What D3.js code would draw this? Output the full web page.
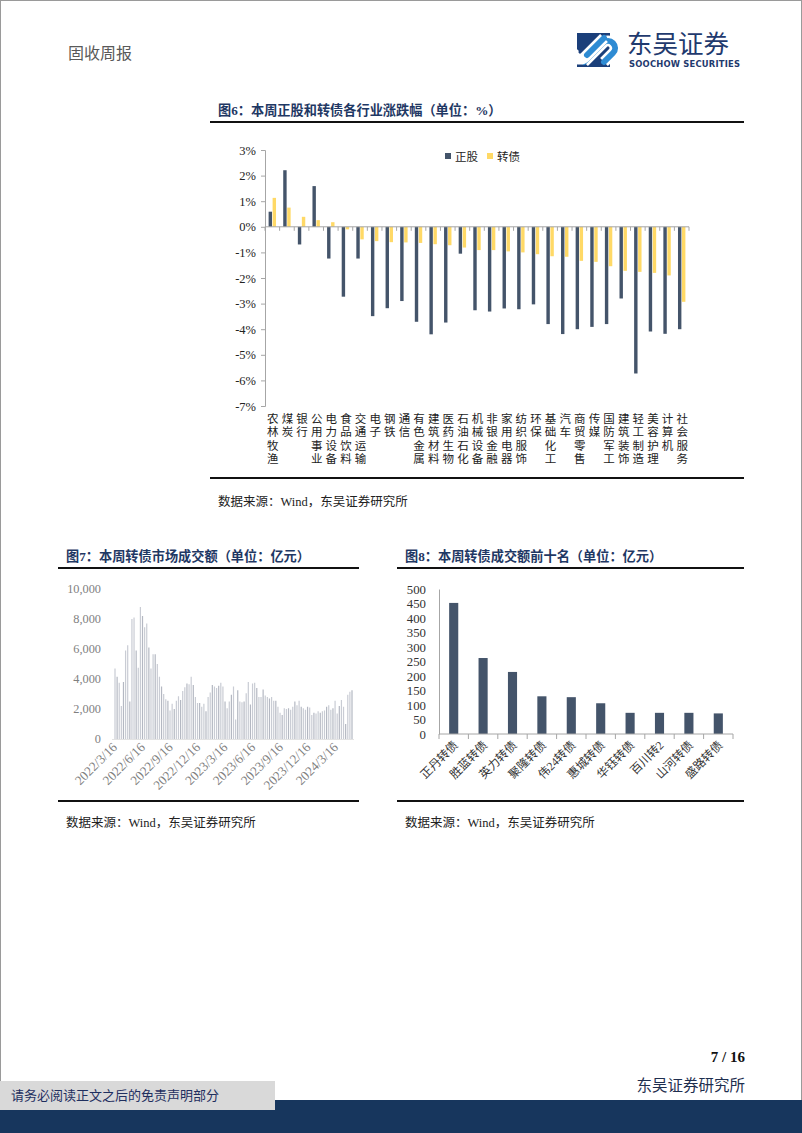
<!DOCTYPE html>
<html><head><meta charset="utf-8">
<script src="https://cdn.jsdelivr.net/npm/d3@7/dist/d3.min.js"></script>
<style>
body{margin:0;background:#fff;}
svg{display:block;}
</style></head><body>
<svg id="page" width="802" height="1133"></svg>
<script>
// ---------- DATA ----------
const industries = ["农林牧渔","煤炭","银行","公用事业","电力设备","食品饮料","交通运输","电子","钢铁","通信","有色金属","建筑材料","医药生物","石油石化","机械设备","非银金融","家用电器","纺织服饰","环保","基础化工","汽车","商贸零售","传媒","国防军工","建筑装饰","轻工制造","美容护理","计算机","社会服务"];
const stockChg = [0.59,2.21,-0.69,1.59,-1.24,-2.73,-1.24,-3.49,-3.18,-2.90,-3.71,-4.20,-3.74,-1.05,-3.26,-3.31,-3.19,-3.22,-3.03,-3.80,-4.19,-4.00,-3.91,-3.80,-2.80,-5.73,-4.09,-4.18,-4.00];
const cbChg = [1.13,0.75,0.39,0.26,0.18,-0.10,-0.49,-0.56,-0.60,-0.61,-0.63,-0.68,-0.72,-0.81,-0.91,-0.91,-0.96,-1.00,-1.07,-1.15,-1.17,-1.33,-1.37,-1.54,-1.72,-1.76,-1.80,-1.90,-2.93];
const seriesNames = ["正股","转债"];
const c6YTicks = [3,2,1,0,-1,-2,-3,-4,-5,-6,-7];

const marketStart = "2022-03-16";
const marketTurnover = [4700,4150,3750,2200,3800,5900,6250,2500,8000,8100,5900,4750,
 8800,8200,7450,7700,6100,4700,5650,5650,5000,4150,3500,3000,2650,
 2550,1900,2350,2000,2550,2850,2600,3200,3450,3700,3650,4150,3600,
 2800,2400,2400,2150,2350,1850,2800,3100,3600,3500,3400,3550,3750,
 3500,2500,2050,2500,2950,3500,1300,3250,2500,2450,2500,3050,3800,
 2300,3700,3750,3400,2800,2800,3300,2900,2800,2700,2800,2550,2550,
 2150,1750,1600,2050,2000,2050,1950,2150,2500,2250,2550,2150,2050,
 1950,2150,2100,1600,1750,1700,1850,1750,1850,1900,2150,2250,1950,2050,2550,
 1700,2200,2600,2150,1000,2950,3150,3250];
const marketXTicks = ["2022/3/16","2022/6/16","2022/9/16","2022/12/16","2023/3/16","2023/6/16","2023/9/16","2023/12/16","2024/3/16"];
const marketYTicks = [0,2000,4000,6000,8000,10000];

const topBonds = ["正丹转债","胜蓝转债","英力转债","聚隆转债","伟24转债","惠城转债","华钰转债","百川转2","山河转债","盛路转债"];
const topTurnover = [452,262,214,130,127,106,73,73,73,71];
const topYTicks = [0,50,100,150,200,250,300,350,400,450,500];

// ---------- STYLE ----------
const NAVY = "#44546a", YELLOW = "#ffd966";
const SERIF = "'Liberation Serif','Noto Sans CJK SC',serif";
const CJK = "'Liberation Serif','Noto Sans CJK SC',sans-serif";
const TITLE = "#1f3864";

const svg = d3.select("#page");
svg.append("rect").attr("x",0.5).attr("y",0.5).attr("width",801).attr("height",1132).attr("fill","#fff").attr("stroke","#9a9a9a");

// ---------- HEADER ----------
svg.append("text").attr("x",68).attr("y",59).attr("font-family",CJK).attr("font-size",16).attr("fill","#595959").text("固收周报");
const logo = svg.append("g");
logo.append("rect").attr("x",577).attr("y",33).attr("width",33).attr("height",34).attr("fill","#1b3f7a");
logo.append("path").attr("d","M584,62 L603,43 A7,7 0 0 1 613,53 L604,62").attr("fill","none").attr("stroke","#fff").attr("stroke-width",11);
logo.append("path").attr("d","M584,62 L603,43 A7,7 0 0 1 613,53 L604,62").attr("fill","none").attr("stroke","#2e8bd3").attr("stroke-width",6).attr("stroke-linecap","round");
logo.append("path").attr("d","M604,38 L585,57 A7,7 0 0 1 575,47").attr("fill","none").attr("stroke","#fff").attr("stroke-width",11);
logo.append("path").attr("d","M604,38 L587,55").attr("fill","none").attr("stroke","#2e8bd3").attr("stroke-width",6).attr("stroke-linecap","round");
svg.append("text").attr("x",627).attr("y",53).attr("font-family","'Noto Sans CJK SC'").attr("font-size",25.5).attr("fill","#1f3a6e").text("东吴证券");
svg.append("text").attr("x",629).attr("y",67).attr("font-family","'DejaVu Sans',sans-serif").attr("font-weight","bold").attr("font-size",8.4).attr("textLength",111).attr("fill","#1f3a6e").text("SOOCHOW SECURITIES");

function titleBlock(x, y, x2, text, ruleY){
  svg.append("text").attr("x",x).attr("y",y).attr("font-family",CJK).attr("font-weight","bold").attr("font-size",13.2).attr("fill",TITLE).text(text);
  svg.append("line").attr("x1",x-8).attr("x2",x2).attr("y1",ruleY).attr("y2",ruleY).attr("stroke","#111").attr("stroke-width",2);
}
function sourceBlock(x, y, x2, ruleY){
  svg.append("line").attr("x1",x-8).attr("x2",x2).attr("y1",ruleY).attr("y2",ruleY).attr("stroke","#111").attr("stroke-width",2);
  svg.append("text").attr("x",x).attr("y",y).attr("font-family",CJK).attr("font-size",12.5).attr("fill","#222").text("数据来源：Wind，东吴证券研究所");
}

// ---------- CHART 6 ----------
titleBlock(218,115,744,"图6：本周正股和转债各行业涨跌幅（单位：%）",122);
sourceBlock(218,506,744,478);
{
  const y = d3.scaleLinear().domain([-7,3]).range([406,150]);
  const x = d3.scaleBand().domain(industries).range([265,689]);
  const inner = d3.scaleBand().domain(seriesNames).range([0,x.bandwidth()]).paddingInner(0.15).paddingOuter(0.9);
  const g = svg.append("g");
  const rows = industries.map((d,i)=>({name:d, vals:[stockChg[i], cbChg[i]]}));
  const cols = [NAVY, YELLOW];
  seriesNames.forEach((s,si)=>{
    g.selectAll(null).data(rows).enter().append("rect")
      .attr("x",d=>x(d.name)+inner(s))
      .attr("width",inner.bandwidth())
      .attr("y",d=>y(Math.max(0,d.vals[si])))
      .attr("height",d=>Math.abs(y(d.vals[si])-y(0)))
      .attr("fill",cols[si]);
  });
  const ya = d3.axisLeft(y).tickValues(c6YTicks).tickFormat(d=>d+"%").tickSize(4).tickPadding(5);
  const yg = svg.append("g").attr("transform","translate(265,0)").call(ya);
  yg.select(".domain").attr("stroke","#a6a6a6");
  yg.selectAll(".tick line").attr("stroke","#a6a6a6");
  yg.selectAll("text").attr("font-family",SERIF).attr("font-size",12.5).attr("fill","#222");
  const xg = svg.append("g");
  xg.append("line").attr("x1",265).attr("x2",689).attr("y1",y(0)).attr("y2",y(0)).attr("stroke","#a6a6a6");
  xg.selectAll(null).data(industries.concat(["end"])).enter().append("line")
    .attr("x1",(d,i)=>265+i*x.step()).attr("x2",(d,i)=>265+i*x.step())
    .attr("y1",y(0)).attr("y2",y(0)+4).attr("stroke","#a6a6a6");
  const lab = svg.append("g").attr("font-family",CJK).attr("font-size",11.5).attr("fill","#222").attr("text-anchor","middle");
  industries.forEach(n=>{
    const t = lab.append("text").attr("x",x(n)+x.bandwidth()/2).attr("y",423);
    n.split("").forEach((c,ci)=>{
      t.append("tspan").attr("x",x(n)+x.bandwidth()/2+0.5).attr("y",423+ci*13.4).text(c);
    });
  });
  const lg = svg.append("g").attr("font-family",CJK).attr("font-size",11.5).attr("fill","#222");
  lg.append("rect").attr("x",445).attr("y",153).attr("width",6).attr("height",6).attr("fill",NAVY);
  lg.append("text").attr("x",455).attr("y",161).text(seriesNames[0]);
  lg.append("rect").attr("x",487).attr("y",153).attr("width",6).attr("height",6).attr("fill",YELLOW);
  lg.append("text").attr("x",497).attr("y",161).text(seriesNames[1]);
}

// ---------- CHART 7 ----------
titleBlock(66,561,359,"图7：本周转债市场成交额（单位：亿元）",568);
sourceBlock(66,827,359,801);
{
  const parse = d3.timeParse("%Y-%m-%d");
  const start = parse(marketStart);
  const dates = marketTurnover.map((v,i)=>d3.timeDay.offset(start, 7*i));
  const x = d3.scaleTime().domain([dates[0], dates[dates.length-1]]).range([115,352]);
  const y = d3.scaleLinear().domain([0,10000]).range([739,589]);
  const g = svg.append("g");
  g.selectAll(null).data(marketTurnover).enter().append("rect")
    .attr("x",(d,i)=>x(dates[i])-0.6).attr("width",1.2)
    .attr("y",d=>y(d)).attr("height",d=>y(0)-y(d))
    .attr("fill",(d,i)=> i%3===1 ? "#b4b8c2" : "#c9ccd4");
  const ya = d3.axisLeft(y).tickValues(marketYTicks).tickFormat(d3.format(",")).tickSize(0).tickPadding(0);
  const yg = svg.append("g").attr("transform","translate(101,0)").call(ya);
  yg.select(".domain").remove();
  yg.selectAll("text").attr("font-family",SERIF).attr("font-size",12.3).attr("fill","#7f7f7f");
  svg.append("line").attr("x1",112).attr("x2",354).attr("y1",y(0)+0.5).attr("y2",y(0)+0.5).attr("stroke","#e3e3e3");
  const pt = d3.timeParse("%Y/%m/%d");
  const xl = svg.append("g").attr("font-family",SERIF).attr("font-size",13.2).attr("fill","#7f7f7f").attr("text-anchor","end");
  marketXTicks.forEach(t=>{
    const px = x(pt(t));
    xl.append("text").attr("transform",`translate(${px+3},${748}) rotate(-45)`).text(t);
  });
}

// ---------- CHART 8 ----------
titleBlock(405,561,744,"图8：本周转债成交额前十名（单位：亿元）",568);
sourceBlock(405,827,744,801);
{
  const x = d3.scaleBand().domain(topBonds).range([439,733]).paddingInner(0.69).paddingOuter(0.345);
  const y = d3.scaleLinear().domain([0,500]).range([734,589]);
  svg.append("g").selectAll(null).data(topBonds).enter().append("rect")
    .attr("x",d=>x(d)).attr("width",x.bandwidth())
    .attr("y",(d,i)=>y(topTurnover[i])).attr("height",(d,i)=>y(0)-y(topTurnover[i]))
    .attr("fill",NAVY);
  const ya = d3.axisLeft(y).tickValues(topYTicks).tickSize(0).tickPadding(13);
  const yg = svg.append("g").attr("transform","translate(439,0)").call(ya);
  yg.select(".domain").attr("stroke","#a6a6a6");
  yg.selectAll("text").attr("font-family",SERIF).attr("font-size",12.8).attr("fill","#333");
  svg.append("line").attr("x1",439).attr("x2",733).attr("y1",y(0)).attr("y2",y(0)).attr("stroke","#a6a6a6");
  const step = x.step();
  svg.append("g").selectAll(null).data(topBonds.concat(["end"])).enter().append("line")
    .attr("x1",(d,i)=>439+i*step).attr("x2",(d,i)=>439+i*step)
    .attr("y1",y(0)).attr("y2",y(0)+5).attr("stroke","#a6a6a6");
  const xl = svg.append("g").attr("font-family",CJK).attr("font-size",11.8).attr("fill","#333").attr("text-anchor","end");
  topBonds.forEach(n=>{
    const px = x(n)+x.bandwidth()/2;
    xl.append("text").attr("transform",`translate(${px+5},${746}) rotate(-45)`).text(n);
  });
}

// ---------- FOOTER ----------
svg.append("text").attr("x",745).attr("y",1062).attr("text-anchor","end").attr("font-family",SERIF).attr("font-weight","bold").attr("font-size",15).attr("fill","#111").text("7 / 16");
svg.append("text").attr("x",745).attr("y",1091).attr("text-anchor","end").attr("font-family",CJK).attr("font-size",15.5).attr("fill","#1f2f4f").text("东吴证券研究所");
svg.append("rect").attr("x",0).attr("y",1100).attr("width",802).attr("height",33).attr("fill","#17365d");
svg.append("rect").attr("x",0).attr("y",1081).attr("width",275).attr("height",29).attr("fill","#d9d9d9");
svg.append("text").attr("x",11).attr("y",1100).attr("font-family",CJK).attr("font-size",13).attr("fill","#1f2f5f").text("请务必阅读正文之后的免责声明部分");
</script>
</body></html>
